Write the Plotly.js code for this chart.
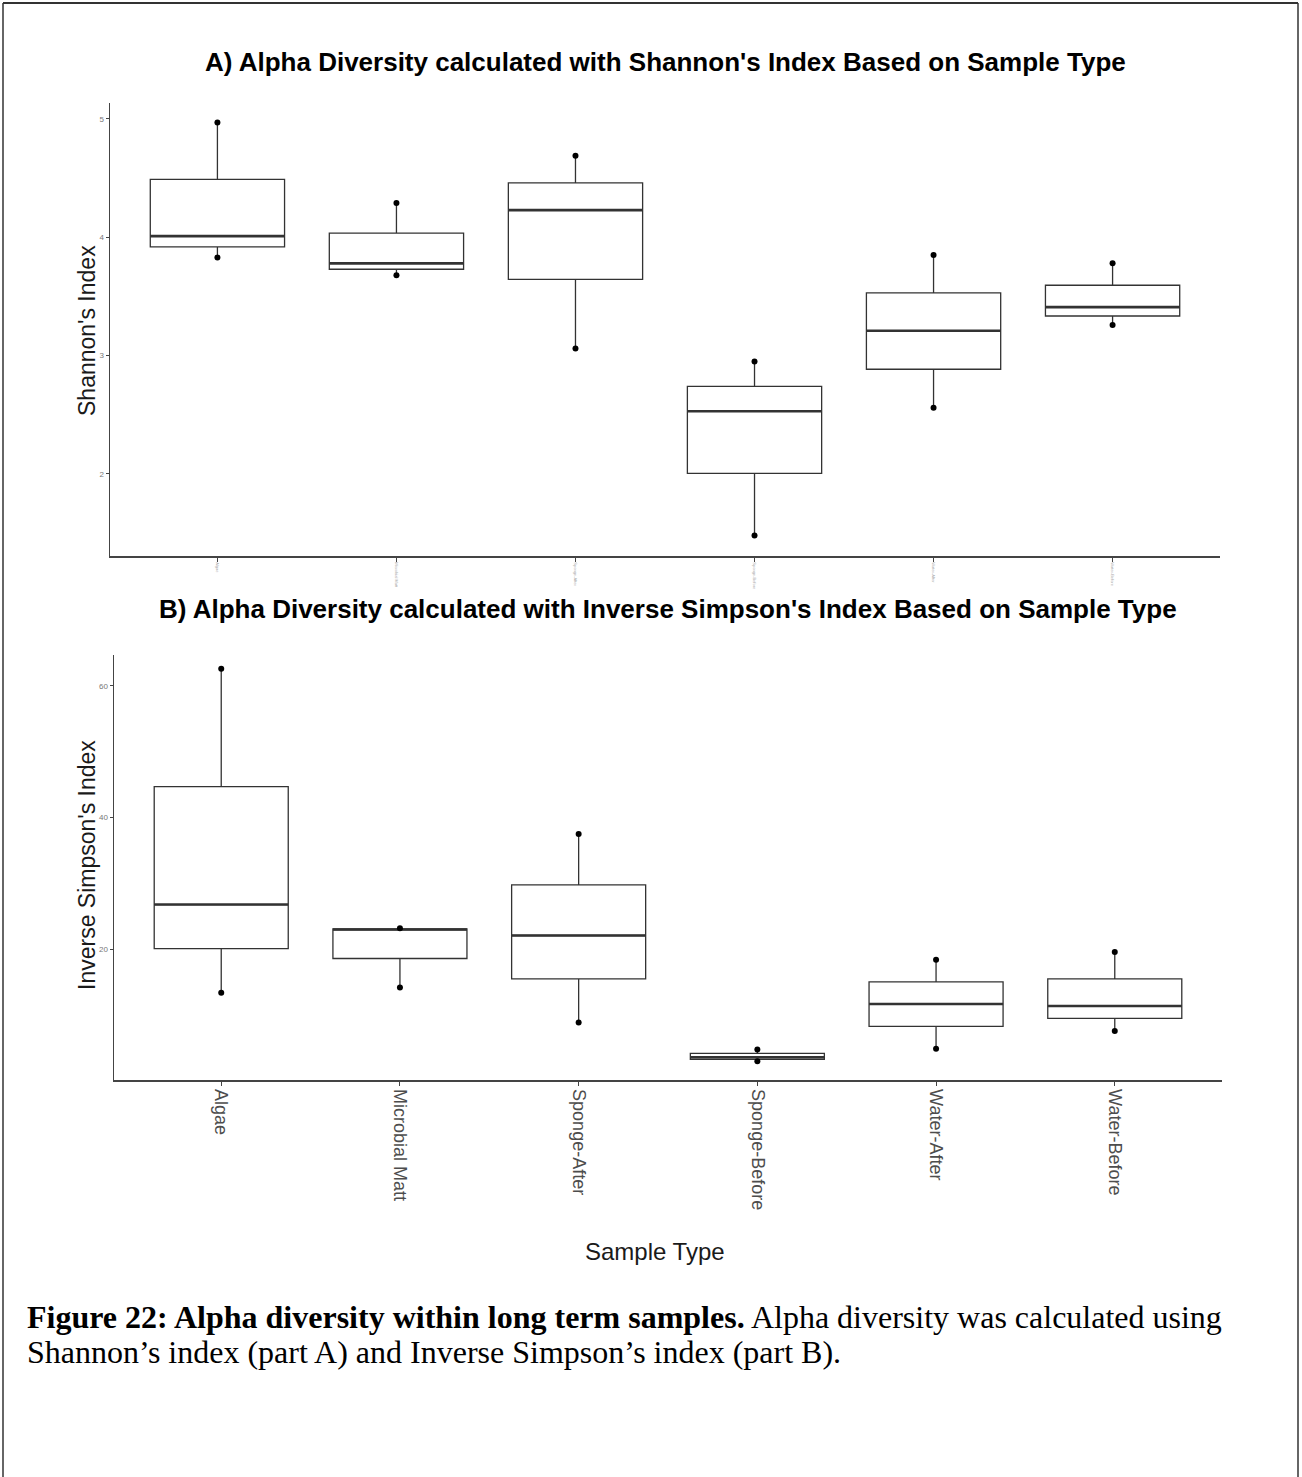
<!DOCTYPE html>
<html>
<head>
<meta charset="utf-8">
<script src="https://cdn.plot.ly/plotly-3.0.1.min.js"></script>
<style>
  html, body { margin: 0; padding: 0; background: #fff; }
  #fig { width: 1302px; height: 1477px; }
</style>
</head>
<body>
<div id="fig"></div>
<script>
// Sample types (x categories, in plotting order)
const sampleTypes = ['Algae', 'Microbial Matt', 'Sponge-After', 'Sponge-Before', 'Water-After', 'Water-Before'];

// Shannon's index, three samples per sample type
const shannonValues = [
  [3.83, 4.01, 4.97],   // Algae
  [3.68, 3.78, 4.29],   // Microbial Matt
  [3.06, 4.23, 4.69],   // Sponge-After
  [1.48, 2.53, 2.95],   // Sponge-Before
  [2.56, 3.21, 3.85],   // Water-After
  [3.26, 3.41, 3.78]    // Water-Before
];

// Inverse Simpson's index, three samples per sample type
const inverseSimpsonValues = [
  [13.4, 26.8, 62.6],   // Algae
  [14.2, 23.0, 23.2],   // Microbial Matt
  [8.9, 22.1, 37.5],    // Sponge-After
  [3.0, 3.6, 4.8],      // Sponge-Before
  [4.9, 11.7, 18.4],    // Water-After
  [7.6, 11.4, 19.6]     // Water-Before
];

const shannonTicks = [2, 3, 4, 5];
const inverseSimpsonTicks = [20, 40, 60];

// ---- page geometry helpers (pixel -> paper) ----
const W = 1302, H = 1477;
const px = x => x / W;
const py = y => 1 - y / H;

const BOX_W = 0.75;
const LINE_COL = '#333333';

function median(arr) {
  const s = arr.slice().sort((a, b) => a - b);
  const n = s.length;
  return n % 2 ? s[(n - 1) / 2] : (s[n / 2 - 1] + s[n / 2]) / 2;
}

function panelTraces(values, xa, ya) {
  const traces = [];
  values.forEach((vals, i) => {
    traces.push({
      type: 'box',
      x: vals.map(() => i),
      y: vals,
      xaxis: xa, yaxis: ya,
      width: BOX_W,
      boxpoints: false,
      quartilemethod: 'inclusive',
      whiskerwidth: 0,
      fillcolor: 'white',
      line: { color: LINE_COL, width: 1.3 },
      hoverinfo: 'skip',
      showlegend: false
    });
  });
  // thicker median bars
  const mx = [], my = [];
  values.forEach((vals, i) => {
    const m = median(vals);
    mx.push(i - BOX_W / 2, i + BOX_W / 2, null);
    my.push(m, m, null);
  });
  traces.push({
    type: 'scatter', mode: 'lines', x: mx, y: my,
    xaxis: xa, yaxis: ya,
    line: { color: LINE_COL, width: 2.6 },
    hoverinfo: 'skip', showlegend: false
  });
  // whisker-end sample points (lowest and highest sample of each type)
  const ex = [], ey = [];
  values.forEach((vals, i) => {
    ex.push(i, i);
    ey.push(Math.min(...vals), Math.max(...vals));
  });
  traces.push({
    type: 'scatter', mode: 'markers', x: ex, y: ey,
    xaxis: xa, yaxis: ya,
    marker: { color: '#000', size: 6 },
    hoverinfo: 'skip', showlegend: false
  });
  return traces;
}

const data = [
  ...panelTraces(shannonValues, 'x', 'y'),
  ...panelTraces(inverseSimpsonValues, 'x2', 'y2')
];

const xIdx = sampleTypes.map((_, i) => i);

const axisLine = {
  showline: true, linecolor: '#444', linewidth: 1.5,
  ticks: 'outside', tickcolor: '#444', tickwidth: 1,
  showgrid: false, zeroline: false, automargin: false, fixedrange: true
};

const sans = 'Liberation Sans, Arial, sans-serif';
const serif = 'Liberation Serif, Times New Roman, serif';

const layout = {
  width: W, height: H,
  margin: { l: 0, r: 0, t: 0, b: 0, pad: 0 },
  paper_bgcolor: '#fff', plot_bgcolor: '#fff',
  showlegend: false,
  font: { family: sans, color: '#222' },

  xaxis: Object.assign({}, axisLine, {
    domain: [px(110), px(1220)], anchor: 'y',
    range: [-0.6, sampleTypes.length - 0.4],
    tickmode: 'array', tickvals: xIdx, ticktext: sampleTypes,
    tickangle: 90, ticklen: 4,
    tickfont: { size: 4, color: '#aaa', family: sans }
  }),
  yaxis: Object.assign({}, axisLine, {
    domain: [py(556), py(103)], anchor: 'x',
    range: [1.307, 5.135],
    tickmode: 'array', tickvals: shannonTicks, ticklen: 3,
    tickfont: { size: 8, color: '#777', family: sans }
  }),
  xaxis2: Object.assign({}, axisLine, {
    domain: [px(114), px(1222)], anchor: 'y2',
    range: [-0.6, sampleTypes.length - 0.4],
    tickmode: 'array', tickvals: xIdx, ticktext: sampleTypes,
    tickangle: 90, ticklen: 4,
    tickfont: { size: 18, color: '#4d4d4d', family: sans }
  }),
  yaxis2: Object.assign({}, axisLine, {
    domain: [py(1080), py(655)], anchor: 'x2',
    range: [0.15, 64.7],
    tickmode: 'array', tickvals: inverseSimpsonTicks, ticklen: 3,
    tickfont: { size: 8, color: '#777', family: sans }
  }),

  annotations: [
    { text: "<b>A) Alpha Diversity calculated with Shannon's Index Based on Sample Type</b>",
      x: px(665), y: py(62), xref: 'paper', yref: 'paper',
      xanchor: 'center', yanchor: 'middle', showarrow: false,
      font: { size: 26, color: '#000', family: sans } },
    { text: "<b>B) Alpha Diversity calculated with Inverse Simpson's Index Based on Sample Type</b>",
      x: px(668), y: py(609), xref: 'paper', yref: 'paper',
      xanchor: 'center', yanchor: 'middle', showarrow: false,
      font: { size: 26, color: '#000', family: sans } },
    { text: "Shannon's Index", textangle: -90,
      x: px(87), y: py(331), xref: 'paper', yref: 'paper',
      xanchor: 'center', yanchor: 'middle', showarrow: false,
      font: { size: 23, color: '#1a1a1a', family: sans } },
    { text: "Inverse Simpson's Index", textangle: -90,
      x: px(87), y: py(865), xref: 'paper', yref: 'paper',
      xanchor: 'center', yanchor: 'middle', showarrow: false,
      font: { size: 23, color: '#1a1a1a', family: sans } },
    { text: 'Sample Type',
      x: px(655), y: py(1251), xref: 'paper', yref: 'paper',
      xanchor: 'center', yanchor: 'middle', showarrow: false,
      font: { size: 24, color: '#1a1a1a', family: sans } },
    { text: '<b>Figure 22: Alpha diversity within long term samples.</b> Alpha diversity was calculated using',
      x: px(25), y: py(1317), xref: 'paper', yref: 'paper',
      xanchor: 'left', yanchor: 'middle', showarrow: false, align: 'left',
      font: { size: 32, color: '#000', family: serif } },
    { text: 'Shannon\u2019s index (part A) and Inverse Simpson\u2019s index (part B).',
      x: px(25), y: py(1352), xref: 'paper', yref: 'paper',
      xanchor: 'left', yanchor: 'middle', showarrow: false, align: 'left',
      font: { size: 32, color: '#000', family: serif } }
  ],

  // page frame
  shapes: [
    { type: 'line', xref: 'paper', yref: 'paper', x0: px(3), x1: px(1298), y0: py(3), y1: py(3),
      line: { color: '#333', width: 2 } },
    { type: 'line', xref: 'paper', yref: 'paper', x0: px(3), x1: px(3), y0: py(3), y1: 0,
      line: { color: '#333', width: 1.5 } },
    { type: 'line', xref: 'paper', yref: 'paper', x0: px(1298), x1: px(1298), y0: py(3), y1: 0,
      line: { color: '#333', width: 1.5 } }
  ]
};

Plotly.newPlot('fig', data, layout, { staticPlot: true, displayModeBar: false });
</script>
</body>
</html>
